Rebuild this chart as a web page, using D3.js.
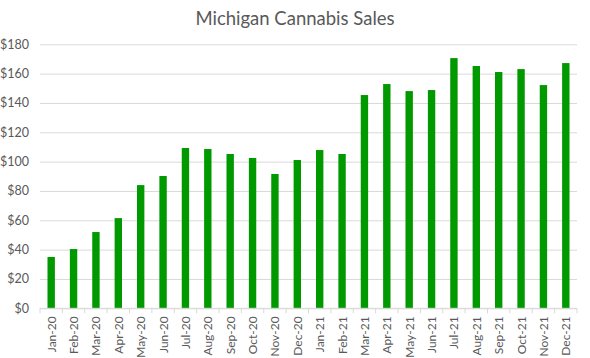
<!DOCTYPE html>
<html><head><meta charset="utf-8">
<script src="https://cdn.jsdelivr.net/npm/d3@7"></script>
<style>body{margin:0;background:#fff}svg{display:block}</style>
</head><body>
<script>
const months = ["Jan-20","Feb-20","Mar-20","Apr-20","May-20","Jun-20","Jul-20","Aug-20","Sep-20","Oct-20","Nov-20","Dec-20",
"Jan-21","Feb-21","Mar-21","Apr-21","May-21","Jun-21","Jul-21","Aug-21","Sep-21","Oct-21","Nov-21","Dec-21"];
const sales = [35,40.4,52,61.5,84,90.2,109.3,108.6,105.2,102.5,91.6,101.1,
107.9,105.2,145.4,152.9,148.1,148.8,170.6,165.2,161.1,163.1,152.2,167.2];
const yTicks = [0,20,40,60,80,100,120,140,160,180];
const title = "Michigan Cannabis Sales";

const W=590,H=358, m={l:40,r:13,t:44.3,b:49.7};
const svg=d3.select("body").append("svg").attr("width",W).attr("height",H);
const font="Lato, 'Open Sans', sans-serif";
const x=d3.scaleBand().domain(months).range([m.l,W-m.r]).paddingInner(0.67).paddingOuter(0.335);
const y=d3.scaleLinear().domain([0,180]).range([H-m.b,m.t]);

svg.append("text").attr("x",W/2).attr("y",25).attr("text-anchor","middle")
 .attr("font-family",font).attr("font-size",18.5).attr("fill","#595959").text(title);

const gy=svg.append("g").attr("transform",`translate(${m.l},0)`)
 .call(d3.axisLeft(y).tickValues(yTicks).tickSize(-(W-m.l-m.r)).tickFormat(d=>"$"+d));
gy.select(".domain").remove();
gy.selectAll(".tick line").attr("stroke","#d9d9d9");
gy.selectAll(".tick text").attr("x",-11).attr("font-family",font).attr("font-size",12.5).attr("fill","#595959");

svg.append("g").selectAll("rect").data(sales).join("rect")
 .attr("x",(d,i)=>x(months[i])).attr("width",x.bandwidth())
 .attr("y",d=>y(d)).attr("height",d=>y(0)-y(d)).attr("fill","#009900");

const gx=svg.append("g").attr("transform",`translate(0,${y(0)})`);
gx.append("line").attr("x1",m.l).attr("x2",W-m.r).attr("stroke","#d9d9d9");
gx.selectAll("line.t").data(d3.range(months.length+1)).join("line").attr("class","t")
 .attr("x1",i=>m.l+i*(W-m.l-m.r)/months.length).attr("x2",i=>m.l+i*(W-m.l-m.r)/months.length)
 .attr("y1",0).attr("y2",5).attr("stroke","#d9d9d9");
gx.selectAll("text").data(months).join("text")
 .attr("transform",d=>`translate(${x(d)+x.bandwidth()/2+4.5},8) rotate(-90)`)
 .attr("text-anchor","end").attr("font-family",font).attr("font-size",12).attr("fill","#595959").text(d=>d);
</script>
</body></html>
